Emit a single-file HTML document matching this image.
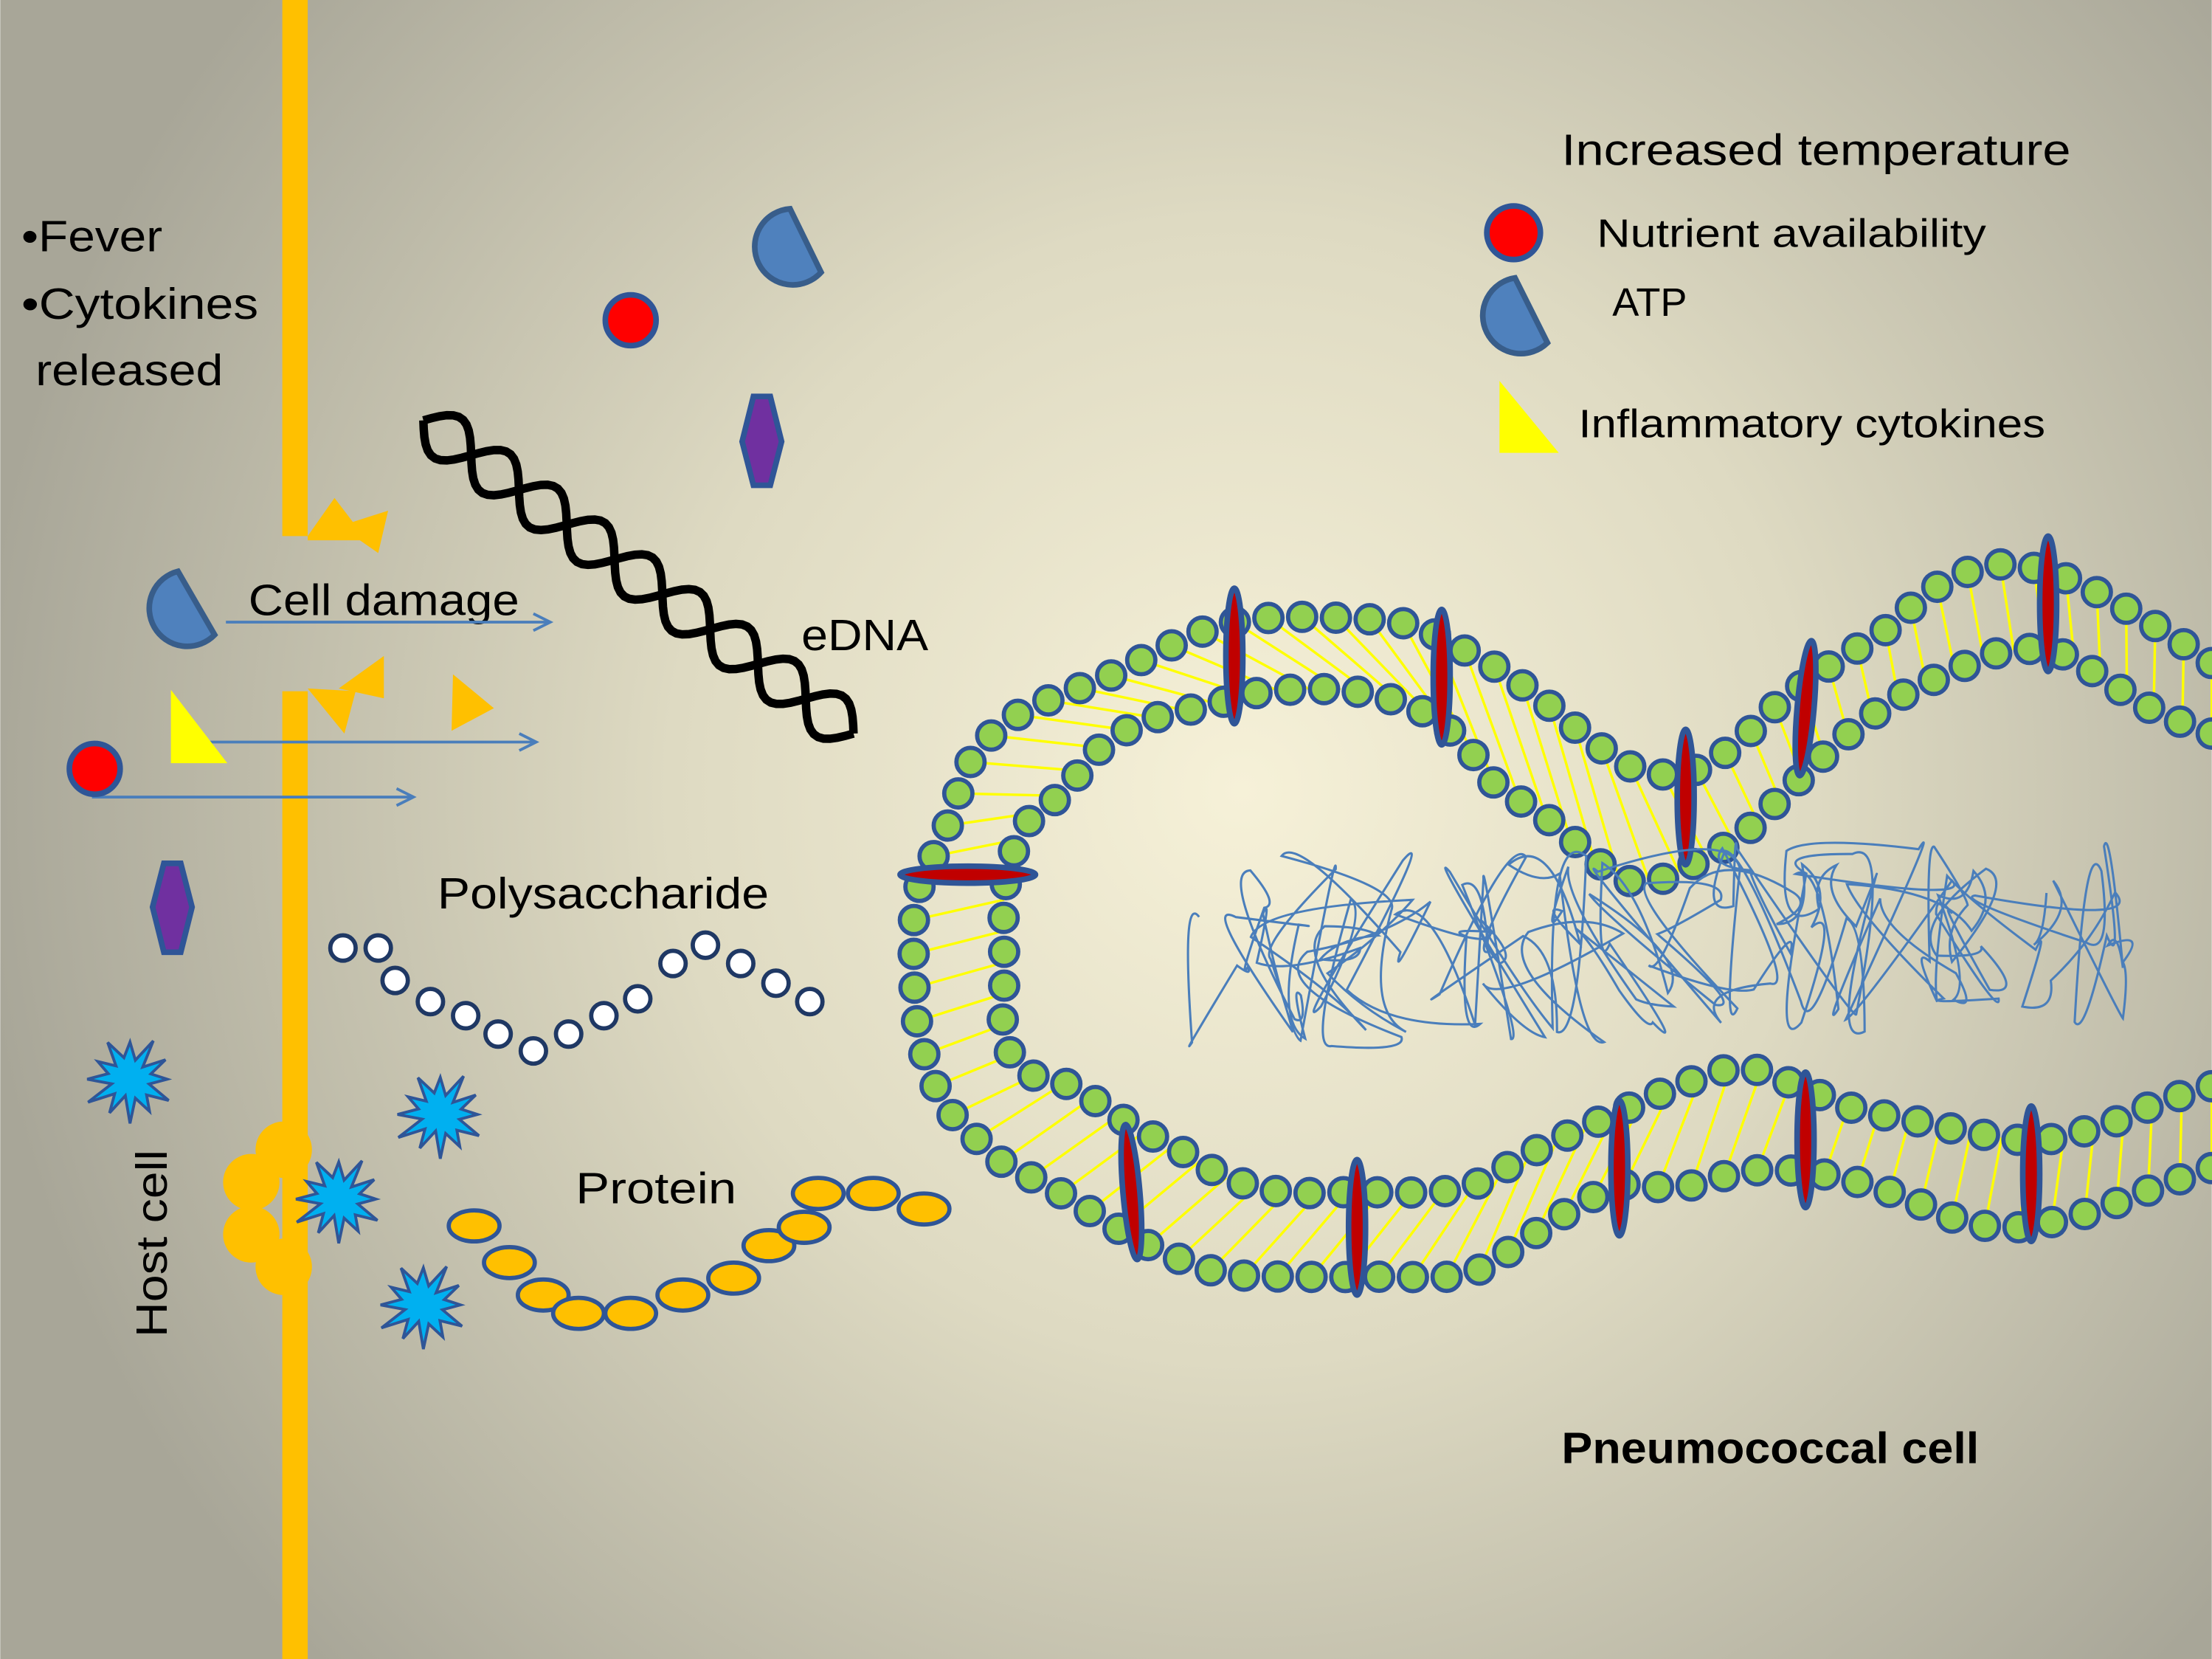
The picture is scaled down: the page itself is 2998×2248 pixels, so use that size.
<!DOCTYPE html>
<html><head><meta charset="utf-8">
<style>
html,body{margin:0;padding:0;width:2998px;height:2248px;overflow:hidden;}
svg{display:block;}
text{font-family:"Liberation Sans",sans-serif;fill:#000;}
</style></head>
<body>
<svg id="s" width="2998" height="2248" viewBox="0 0 1568 1176" xmlns="http://www.w3.org/2000/svg">
<defs>
<radialGradient id="bg" cx="880" cy="560" r="900" gradientUnits="userSpaceOnUse">
<stop offset="0" stop-color="#f6f1d8"/>
<stop offset="0.45" stop-color="#dedac2"/>
<stop offset="1" stop-color="#a8a698"/>
</radialGradient>
</defs>
<rect width="1568" height="1176" fill="url(#bg)"/>

<rect x="200" y="0" width="18" height="380" fill="#ffc000"/>
<rect x="200" y="490" width="18" height="686" fill="#ffc000"/>
<circle cx="201" cy="815" r="20" fill="#ffc000"/>
<circle cx="178" cy="838" r="20" fill="#ffc000"/>
<circle cx="178" cy="875" r="20" fill="#ffc000"/>
<circle cx="201" cy="898" r="20" fill="#ffc000"/>
<polygon points="218,380 237,353 250,370 275,362 268,392 255,383 218,383" fill="#ffc000"/>
<polygon points="218,488 252,490 244,520" fill="#ffc000"/>
<polygon points="240,488 272,465 272,495 " fill="#ffc000"/>
<polygon points="321,478 350,502 320,518" fill="#ffc000"/>

<text x="15" y="178" font-size="31" textLength="100" lengthAdjust="spacingAndGlyphs">•Fever</text>
<text x="15" y="226" font-size="31" textLength="168" lengthAdjust="spacingAndGlyphs">•Cytokines</text>
<text x="25" y="273" font-size="31" textLength="133" lengthAdjust="spacingAndGlyphs">released</text>
<text x="176" y="436" font-size="31" textLength="192" lengthAdjust="spacingAndGlyphs">Cell damage</text>
<text x="568" y="461" font-size="31" textLength="90" lengthAdjust="spacingAndGlyphs">eDNA</text>
<text x="310" y="644" font-size="31" textLength="235" lengthAdjust="spacingAndGlyphs">Polysaccharide</text>
<text x="408" y="853" font-size="31" textLength="114" lengthAdjust="spacingAndGlyphs">Protein</text>
<text transform="translate(118,948) rotate(-90)" font-size="31" textLength="133" lengthAdjust="spacingAndGlyphs">Host cell</text>
<text x="1107" y="117" font-size="31" textLength="361" lengthAdjust="spacingAndGlyphs">Increased temperature</text>
<text x="1132" y="175" font-size="28" textLength="276" lengthAdjust="spacingAndGlyphs">Nutrient availability</text>
<text x="1143" y="224" font-size="28" textLength="53" lengthAdjust="spacingAndGlyphs">ATP</text>
<text x="1119" y="310" font-size="28" textLength="331" lengthAdjust="spacingAndGlyphs">Inflammatory cytokines</text>
<text x="1107" y="1037" font-size="31" font-weight="bold" textLength="296" lengthAdjust="spacingAndGlyphs">Pneumococcal cell</text>

<g stroke="#4a7ebb" stroke-width="2" fill="none">
<line x1="160" y1="441" x2="388" y2="441"/><polyline points="378,435 390,441 378,447"/>
<line x1="148" y1="526" x2="378" y2="526"/><polyline points="368,520 380,526 368,532"/>
<line x1="65" y1="565" x2="291" y2="565"/><polyline points="281,559 293,565 281,571"/>
</g>

<g fill="#4f81bd" stroke="#385d8a" stroke-width="4">
<path d="M126,405 L152,450 A27,27 0 1 1 126,405 Z"/>
<path d="M560,148 L582,193 A27,27 0 1 1 560,148 Z"/>
<path d="M1074,197 L1097,243 A27,27 0 1 1 1074,197 Z"/>
</g>
<g fill="#ff0000" stroke="#2f5597" stroke-width="4">
<circle cx="447" cy="227" r="18"/>
<circle cx="1073" cy="165" r="19"/>
<circle cx="67" cy="545" r="18"/>
</g>
<polygon points="121,489 161,541 121,541" fill="#ffff00"/>
<polygon points="1063,270 1105,321 1063,321" fill="#ffff00"/>
<g fill="#7030a0" stroke="#2f5597" stroke-width="4">
<polygon points="534,281 546,281 554,313 546,344 534,344 526,313"/>
<polygon points="116,612 128,612 136,643 128,675 116,675 108,643"/>
</g>

<g id="dna" fill="none" stroke="#000" stroke-width="6"></g>
<g id="poly" fill="#fff" stroke="#1f3864" stroke-width="3"></g>
<g id="prot" fill="#ffc000" stroke="#2f5597" stroke-width="3"></g>
<g id="stars" fill="#00b0f0" stroke="#2f5597" stroke-width="2"></g>

<g id="links" stroke="#ffff00" stroke-width="1.8"></g>
<g id="beads" fill="#92d050" stroke="#2f5597" stroke-width="3"></g>
<g id="prots" fill="#c00000" stroke="#2f5597" stroke-width="4"></g>
<path id="tangle" fill="none" stroke="#4a7ebb" stroke-width="1.6"/>

<path id="outer" fill="none" stroke="none" d=""/>
<path id="inner" fill="none" stroke="none" d=""/>
</svg>
<script>
var NS="http://www.w3.org/2000/svg";
function el(p,t,a){var e=document.createElementNS(NS,t);for(var k in a)e.setAttribute(k,a[k]);document.getElementById(p).appendChild(e);return e;}
function smooth(pts){var d="M"+pts[0][0]+","+pts[0][1];for(var i=0;i<pts.length-1;i++){var p0=pts[Math.max(0,i-1)],p1=pts[i],p2=pts[i+1],p3=pts[Math.min(pts.length-1,i+2)];d+=" C"+(p1[0]+(p2[0]-p0[0])/6)+","+(p1[1]+(p2[1]-p0[1])/6)+" "+(p2[0]-(p3[0]-p1[0])/6)+","+(p2[1]-(p3[1]-p1[1])/6)+" "+p2[0]+","+p2[1];}return d;}
var O=[[1568,470],[1525,442],[1470,412],[1420,400],[1375,415],[1335,448],[1300,470],[1262,498],[1228,530],[1195,548],[1160,545],[1128,525],[1098,500],[1068,478],[1040,462],[1000,443],[950,438],[900,438],[860,445],[815,465],[785,480],[735,500],[710,515],[688,540],[670,590],[650,635],[648,690],[652,735],[668,780],[690,805],[712,825],[742,840],[775,860],[805,878],[835,892],[870,903],[920,905],[980,905],[1040,903],[1080,880],[1110,860],[1150,840],[1190,842],[1240,830],[1290,832],[1340,845],[1390,865],[1430,870],[1480,860],[1520,845],[1568,828]];
var I=[[1568,520],[1530,505],[1500,487],[1460,463],[1420,462],[1380,478],[1345,495],[1305,525],[1268,560],[1235,592],[1205,610],[1175,624],[1148,622],[1118,598],[1090,575],[1062,558],[1040,530],[1010,505],[960,490],[900,490],[858,500],[810,512],[775,535],[755,562],[735,575],[720,600],[712,635],[712,690],[712,735],[728,760],[760,770],[790,790],[818,806],[845,820],[870,835],[910,845],[960,845],[1010,845],[1045,840],[1090,815],[1140,792],[1190,770],[1235,757],[1275,770],[1315,786],[1360,795],[1410,805],[1450,808],[1500,795],[1530,782],[1568,770]];
var po=document.getElementById("outer"),pi=document.getElementById("inner");
po.setAttribute("d",smooth(O));pi.setAttribute("d",smooth(I));
var Lo=po.getTotalLength(),Li=pi.getTotalLength();
var nl=Math.round(Lo/24);
for(var k=0;k<=nl;k++){var a=po.getPointAtLength(Lo*k/nl),b=pi.getPointAtLength(Li*k/nl);el("links","line",{x1:a.x,y1:a.y,x2:b.x,y2:b.y});}
[[po,Lo],[pi,Li]].forEach(function(q){var n=Math.round(q[1]/24);for(var k=0;k<=n;k++){var p=q[0].getPointAtLength(q[1]*k/n);el("beads","circle",{cx:p.x,cy:p.y,r:10});}});
[[875,465,0],[1022,480,0],[1195,565,0],[1280,502,5],[1452,428,0],[686,620,90],[802,845,-5],[962,870,0],[1148,828,0],[1280,808,0],[1440,832,0]].forEach(function(p){el("prots","ellipse",{cx:p[0],cy:p[1],rx:6,ry:48,transform:"rotate("+p[2]+" "+p[0]+" "+p[1]+")"});});
var seed=7;function rnd(){seed=(seed*16807)%2147483647;return seed/2147483647;}
var d="M850,650",x=850,y=650;
for(var i=0;i<150;i++){var tx=845+660*(i/150)+(rnd()-0.5)*120;var cy=680-(i/150)*20;var ty=cy+(rnd()-0.5)*140;ty=Math.max(600,Math.min(760,ty));tx=Math.max(845,Math.min(1505,tx));d+=" Q"+(x+(rnd()-0.5)*60)+","+(y+(rnd()-0.5)*60)+" "+tx+","+ty;x=tx;y=ty;}
document.getElementById("tangle").setAttribute("d",d);
function helix(ph){var s="";for(var t=0;t<=1.0001;t+=0.01){var bx=300+(605-300)*t,by=298+(520-298)*t;var nx=-0.59,ny=0.81;var w=17*Math.sin(t*Math.PI*2*4.5+ph);s+=(t==0?"M":"L")+(bx+nx*w)+","+(by+ny*w);}return s;}
el("dna","path",{d:helix(0)});el("dna","path",{d:helix(Math.PI)});
[[243,672],[268,672],[280,695],[305,710],[330,720],[353,733],[378,745],[403,733],[428,720],[452,708],[477,683],[500,670],[525,683],[550,697],[574,710]].forEach(function(p){el("poly","circle",{cx:p[0],cy:p[1],r:9});});
[[336,869],[361,895],[385,918],[410,931],[447,931],[484,918],[520,906],[545,883],[570,870],[580,846],[619,846],[655,857]].forEach(function(p){el("prot","ellipse",{cx:p[0],cy:p[1],rx:18,ry:11});});
[[92,765],[312,790],[240,850],[300,925]].forEach(function(c){var s="";for(var i=0;i<24;i++){var r=(i%2?15:31)*(0.85+0.3*((i*37)%7)/7);var a=i*Math.PI/12;s+=(c[0]+r*Math.cos(a))+","+(c[1]+r*Math.sin(a)*0.95)+" ";}el("stars","polygon",{points:s});});
</script>
</body></html>
